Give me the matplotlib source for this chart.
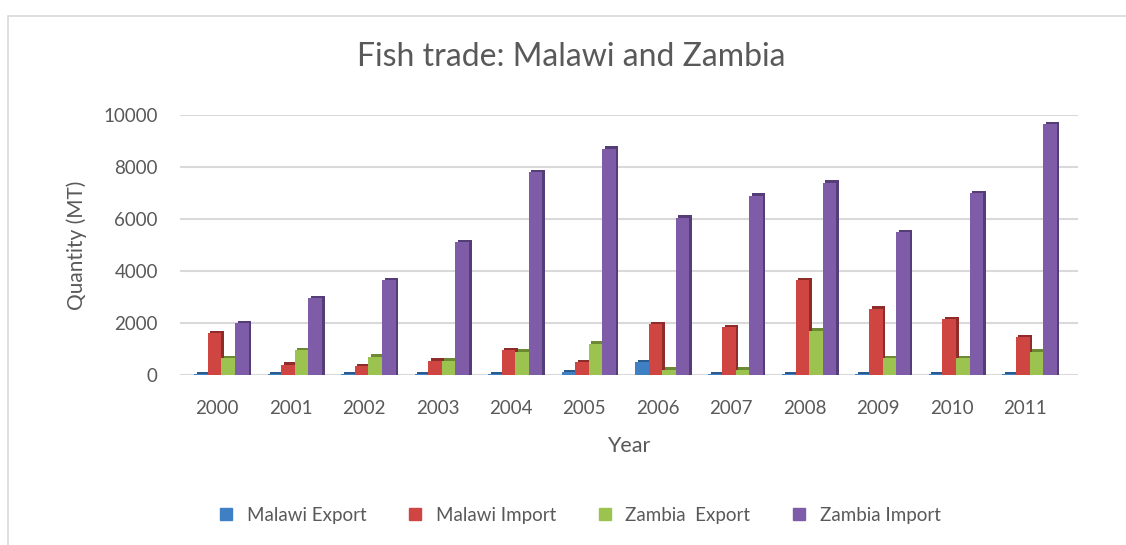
import numpy as np
import matplotlib
matplotlib.use("Agg")
import matplotlib.pyplot as plt
from matplotlib.patches import Rectangle
from matplotlib.lines import Line2D

years = ["2000", "2001", "2002", "2003", "2004", "2005",
         "2006", "2007", "2008", "2009", "2010", "2011"]
malawi_export = [30, 30, 30, 30, 30, 100, 500, 20, 20, 20, 20, 20]
malawi_import = [1600, 400, 350, 550, 950, 500, 1950, 1850, 3650, 2550, 2150, 1450]
zambia_export = [650, 950, 700, 550, 900, 1200, 200, 200, 1700, 650, 650, 900]
zambia_import = [2000, 2950, 3650, 5100, 7800, 8700, 6050, 6900, 7400, 5500, 7000, 9650]

series = ["Malawi Export", "Malawi Import", "Zambia  Export", "Zambia Import"]
values = [malawi_export, malawi_import, zambia_export, zambia_import]
colors = ["#3F7FC4", "#CE4541", "#9CC24F", "#7E5CA8"]
shades = ["#2A5A8E", "#8E2C2A", "#6C8A33", "#553D78"]

grey = "#595959"
plt.rcParams["font.family"] = ["Lato", "DejaVu Sans"]

fig = plt.figure(figsize=(11.26, 5.45), dpi=100)
W, H = 1126, 545
ax = fig.add_axes([180 / W, 1 - 375 / H, (1078 - 180) / W, (375 - 115) / H])

# chart frame
fig.patches.append(Rectangle((8 / W, -0.1), 1.2, 1 - 16 / H + 0.1,
                             transform=fig.transFigure, fill=False,
                             edgecolor="#d9d9d9", linewidth=1.2))

x = np.arange(len(years))
width = 0.185
depth_x = 0.035
depth_y = 90

for i, (vals, c, s) in enumerate(zip(values, colors, shades)):
    pos = x + 0.06 + (i - 1.5) * width
    vals = np.array(vals)
    # side/top shading to fake the 3D look
    ax.bar(pos + depth_x, vals + depth_y, width, color=s, zorder=2 + i * 2,
           linewidth=0)
    ax.bar(pos, vals, width, color=c, zorder=3 + i * 2, linewidth=0)

ax.set_ylim(0, 10000)
ax.set_xlim(-0.504, 11.72)
ax.set_yticks(range(0, 10001, 2000))
ax.set_xticks(x)
ax.set_xticklabels(years)
ax.yaxis.grid(True, color="#d9d9d9", linewidth=1.5, zorder=0)
ax.set_axisbelow(True)
for sp in ax.spines.values():
    sp.set_visible(False)
ax.tick_params(length=0, labelsize=13.5, colors=grey)
ax.tick_params(axis="y", pad=16)
ax.tick_params(axis="x", pad=18)

ax.set_ylabel("Quantity (MT)", fontsize=15, color=grey, labelpad=12)
ax.set_xlabel("Year", fontsize=15.5, color=grey, labelpad=14)
fig.text(571 / W, 1 - 57 / H, "Fish trade: Malawi and Zambia",
         ha="center", va="center", fontsize=23, color=grey)

handles = [Line2D([], [], marker="s", linestyle="none", markersize=8,
                  markerfacecolor=c, markeredgecolor=c) for c in colors]
fig.legend(handles, series, loc="center", bbox_to_anchor=(574 / W, 1 - 515 / H),
           ncol=4, frameon=False, fontsize=13.5, labelcolor=grey,
           handletextpad=0.1, columnspacing=1.6)

fig.savefig("out.png", dpi=100)
